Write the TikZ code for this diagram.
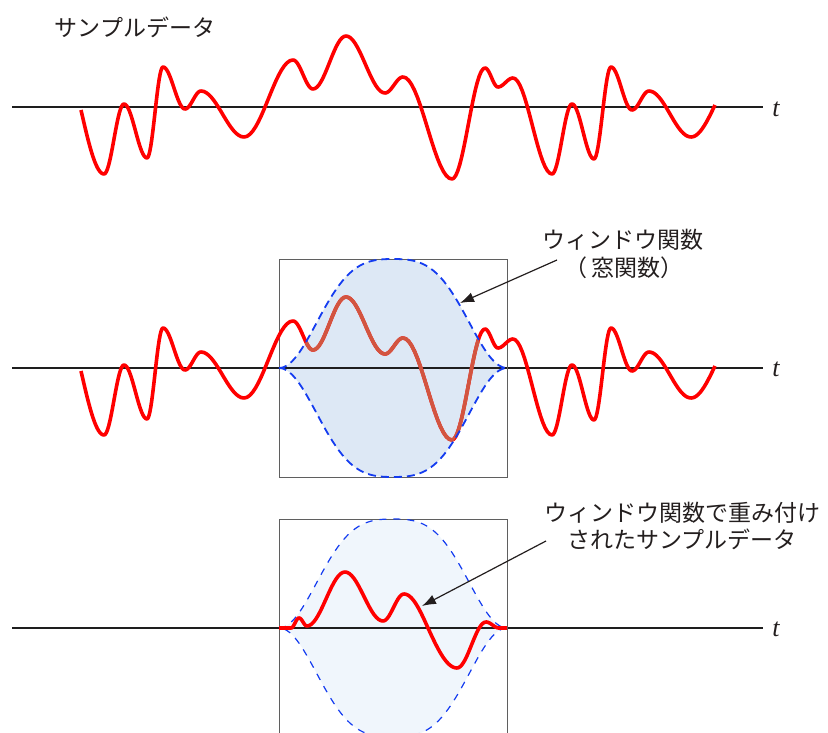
\documentclass[tikz,border=0pt]{standalone}
\usepackage{fontspec}
\setmainfont{Liberation Serif}
\newfontfamily\jp{Noto Sans CJK JP}
\usetikzlibrary{arrows.meta}
\definecolor{wavered}{RGB}{255,0,0}
\definecolor{wavebrown}{RGB}{210,85,64}
\definecolor{winfill}{RGB}{221,232,245}
\definecolor{winfillb}{RGB}{240,246,252}
\definecolor{winblue}{RGB}{20,60,240}
\definecolor{boxgray}{RGB}{95,95,95}
\definecolor{axiscol}{RGB}{30,30,30}
\definecolor{txt}{RGB}{35,30,30}
\def\wavesegs{81/110/104/174/90/180/0/1, 104/174/124/104/0/180/0/1, 124/104/147/158/0/180/0/1, 147/158/163/67/0/180/0/1, 163/67/185/109/0/180/0/1, 185/109/201/91/0/180/0/1, 201/91/244/137/0/180/0/1, 244/137/293/60/0/180/0/1, 293/60/313/89/0/180/0/1, 313/89/346/36/0/180/0/1, 346/36/385/93/0/180/0/1, 385/93/403/77/0/180/0/1, 403/77/452/179/0/180/0/1, 452/179/485/68/0/180/0/1, 485/68/498/87/0/180/0/1, 498/87/513/78/0/180/0/1, 513/78/552/174/0/180/0/1, 552/174/572/104/0/180/0/1, 572/104/594/159/0/180/0/1, 594/159/611/67/0/180/0/1, 611/67/632/110/0/180/0/1, 632/110/649/91/0/180/0/1, 649/91/691/137/0/180/0/1, 691/137/715/105/0/90/0/1}
\def\weightsegs{279/628/291/628/0/180, 291/628/299/618/0/180, 299/618/307/626/0/180, 307/626/345/572/0/180, 345/572/383/621/0/180, 383/621/404/594/0/180, 404/594/428/628/0/90, 428/628/457/668/90/180, 457/668/486/622/0/180, 486/622/499/628/0/180, 499/628/507/628/0/180}
\newcommand\rawwave[1]{%
  \draw[wave,#1] (81,110) foreach \xa/\ya/\xb/\yb/\pa/\pb/\ta/\tb in \wavesegs {
    -- plot[variable=\t, domain=\ta:\tb, samples=18] ({\xa+(\xb-\xa)*\t},{\ya+(\yb-\ya)*ease(\t,\pa,\pb)})
  };}
\begin{document}
\begin{tikzpicture}[x=1pt,y=-1pt,
  declare function={ease(\vt,\va,\vb)=(cos(\va)-cos(\va+(\vb-\va)*\vt))/(cos(\va)-cos(\vb));
                    winh(\vx)=0.3*(1-abs(1-(\vx-279)/114))+0.7*sin((\vx-279)*0.789474);
                    winw(\vx)=(1-cos(180*winh(\vx)))/2;},
  wave/.style={line width=3.6pt, wavered, line join=round},
  axisline/.style={line width=1.3pt, axiscol},
  boxline/.style={line width=1pt, boxgray},
  winA/.style={winblue, line width=1.8pt, dash pattern=on 8pt off 5pt},
  winB/.style={winblue, line width=1.2pt, dash pattern=on 7pt off 7pt},
  jplabel/.style={font=\jp\fontsize{23}{27}\selectfont, text=txt, inner sep=0pt},
  tlabel/.style={font=\fontsize{26}{26}\selectfont\itshape, text=txt, inner sep=0pt},
  pointer/.style={line width=1.2pt, txt, -{Latex[length=14pt,width=10pt]}}
]
\useasboundingbox (0,0) rectangle (828,733);
\clip (0,0) rectangle (828,733);

% ---------- panel 1 ----------
\node[jplabel] (lab0) at (135,27) {サンプルデータ};
\draw[axisline] (12,107) -- (763,107);
\node[tlabel] (t1) at (776,109) {t};
\rawwave{}

% ---------- panel 2 ----------
\fill[winfill] plot[domain=279:507,samples=91] (\x,{368-109*winw(\x)}) -- plot[domain=507:279,samples=91] (\x,{368+109*winw(\x)}) -- cycle;
\draw[axisline] (12,368) -- (763,368);
\node[tlabel] (t2) at (776,369) {t};
\draw[boxline] (279,259) rectangle (507,477);
\begin{scope}[shift={(0,261)}]
  \rawwave{}
\end{scope}
\begin{scope}
  \clip plot[domain=279:507,samples=91] (\x,{368-109*winw(\x)}) -- plot[domain=507:279,samples=91] (\x,{368+109*winw(\x)}) -- cycle;
  \begin{scope}[shift={(0,261)}]
    \rawwave{wavebrown}
  \end{scope}
\end{scope}
\draw[winA] plot[domain=279:507,samples=91] (\x,{368-109*winw(\x)}) -- plot[domain=507:279,samples=91] (\x,{368+109*winw(\x)}) -- cycle;
\node[jplabel] (lab1) at (623,240) {ウィンドウ関数};
\node[jplabel] (lab1b) at (624,268) {（\kern5pt 窓関数）};
\coordinate (a1s) at (557,260);
\coordinate (a1e) at (460,303);
\draw[pointer] (a1s) -- (a1e);

% ---------- panel 3 ----------
\fill[winfillb] plot[domain=279:507,samples=91] (\x,{628-109*winw(\x)}) -- plot[domain=507:279,samples=91] (\x,{628+109*winw(\x)}) -- cycle;
\draw[axisline] (12,628) -- (763,628);
\node[tlabel] (t3) at (776,629) {t};
\draw[boxline] (279,733) -- (279,519) -- (507,519) -- (507,733);
\draw[winB] plot[domain=279:507,samples=91] (\x,{628-109*winw(\x)}) -- plot[domain=507:279,samples=91] (\x,{628+109*winw(\x)}) -- cycle;
\draw[wave] (279,628) foreach \xa/\ya/\xb/\yb/\pa/\pb in \weightsegs {
  -- plot[variable=\t, domain=0:1, samples=18] ({\xa+(\xb-\xa)*\t},{\ya+(\yb-\ya)*ease(\t,\pa,\pb)})
};
\node[jplabel, align=center] (lab2) at (682,526) {ウィンドウ関数で重み付け\\されたサンプルデータ};
\coordinate (a2s) at (546,541);
\coordinate (a2e) at (422,606);
\draw[pointer] (a2s) -- (a2e);
\end{tikzpicture}
\end{document}
